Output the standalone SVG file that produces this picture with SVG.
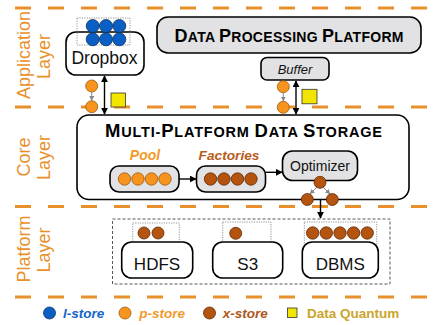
<svg xmlns="http://www.w3.org/2000/svg" width="433" height="325" viewBox="0 0 433 325">
<defs>
<style>
.layer{stroke:#E8912C;stroke-width:3;stroke-dasharray:16 17;fill:none}
.ltxt{font-family:"Liberation Sans",Arial,sans-serif;font-size:18px;fill:#E8912C;text-anchor:middle}
.node{fill:#fff;stroke:#000;stroke-width:1.6}
.gnode{fill:#E2E2E4;stroke:#000;stroke-width:1.6}
.txt{font-family:"Liberation Sans",Arial,sans-serif;fill:#111;text-anchor:middle}
.title{font-family:"Liberation Sans",Arial,sans-serif;font-weight:bold;fill:#000;text-anchor:middle}
.dot{fill:none;stroke:#888;stroke-width:0.9;stroke-dasharray:1.2 1.2}
.lb{fill:#0A5FC4;stroke:#10335E;stroke-width:0.8}
.po{fill:#F7941D;stroke:#9A5A12;stroke-width:0.8}
.xb{fill:#B5540F;stroke:#5E2A06;stroke-width:0.8}
.dq{fill:#F2E600;stroke:#333;stroke-width:0.8}
.arr{stroke:#000;stroke-width:1.4;fill:none}
.garr{stroke:#888;stroke-width:1;fill:none}
.leg{font-family:"Liberation Sans",Arial,sans-serif;font-size:13.5px;font-weight:bold}
</style>
<marker id="ah" viewBox="0 0 10 10" refX="9" refY="5" markerWidth="5" markerHeight="5" orient="auto-start-reverse"><path d="M0,0 L10,5 L0,10 z" fill="#000"/></marker>
<marker id="gh" viewBox="0 0 10 10" refX="9" refY="5" markerWidth="5" markerHeight="5" orient="auto"><path d="M0,0 L10,5 L0,10 z" fill="#888"/></marker>
</defs>
<rect width="433" height="325" fill="#fff"/>

<g id="layer-lines">
<line class="layer" x1="15" y1="8" x2="433" y2="8"/>
<line class="layer" x1="15" y1="107" x2="433" y2="107"/>
<line class="layer" x1="15" y1="206.5" x2="433" y2="206.5"/>
<line class="layer" x1="15" y1="297" x2="433" y2="297"/>
</g>

<g id="layer-labels">
<text class="ltxt" transform="translate(30,55) rotate(-90)">Application</text>
<text class="ltxt" transform="translate(50,56.5) rotate(-90)">Layer</text>
<text class="ltxt" transform="translate(29.5,157) rotate(-90)">Core</text>
<text class="ltxt" transform="translate(50,157.5) rotate(-90)">Layer</text>
<text class="ltxt" transform="translate(30,249) rotate(-90)">Platform</text>
<text class="ltxt" transform="translate(50,250) rotate(-90)">Layer</text>
</g>

<g id="dropbox">
<rect class="node" x="66" y="32" width="78" height="43" rx="10"/>
<rect class="dot" x="77" y="18" width="53" height="27"/>
<circle class="lb" cx="92.7" cy="26" r="6.5"/>
<circle class="lb" cx="106" cy="26" r="6.5"/>
<circle class="lb" cx="119.3" cy="26" r="6.5"/>
<circle class="lb" cx="92.7" cy="39.3" r="6.5"/>
<circle class="lb" cx="106" cy="39.3" r="6.5"/>
<circle class="lb" cx="119.3" cy="39.3" r="6.5"/>
<text class="txt" x="104.5" y="64" font-size="17.5">Dropbox</text>
</g>

<g id="data-processing-platform">
<rect class="gnode" x="157" y="17" width="264" height="36" rx="11"/>
<text class="title" x="289" y="42" textLength="229" lengthAdjust="spacing"><tspan font-size="18">D</tspan><tspan font-size="14">ATA </tspan><tspan font-size="18">P</tspan><tspan font-size="14">ROCESSING </tspan><tspan font-size="18">P</tspan><tspan font-size="14">LATFORM</tspan></text>
</g>

<g id="buffer">
<rect class="gnode" x="261" y="57.5" width="68" height="22.5" rx="6"/>
<text class="txt" x="295" y="73.5" font-size="13" font-style="italic">Buffer</text>
</g>

<g id="core">
<rect class="node" x="77" y="115" width="332" height="84.5" rx="12" stroke-width="2"/>
<text class="title" x="243.5" y="137" textLength="277" lengthAdjust="spacing"><tspan font-size="18.5">M</tspan><tspan font-size="14.5">ULTI-</tspan><tspan font-size="18.5">P</tspan><tspan font-size="14.5">LATFORM </tspan><tspan font-size="18.5">D</tspan><tspan font-size="14.5">ATA </tspan><tspan font-size="18.5">S</tspan><tspan font-size="14.5">TORAGE</tspan></text>
</g>

<g id="pool">
<text class="txt" x="145" y="160" font-size="14" font-weight="bold" font-style="italic" fill="#F39A26" style="fill:#F39A26">Pool</text>
<rect class="gnode" x="110" y="166" width="69" height="26" rx="9"/>
<circle class="po" cx="124.5" cy="179" r="6.2"/>
<circle class="po" cx="138" cy="179" r="6.2"/>
<circle class="po" cx="151.5" cy="179" r="6.2"/>
<circle class="po" cx="165" cy="179" r="6.2"/>
</g>

<g id="factories">
<text class="txt" x="229" y="160" font-size="13.7" font-weight="bold" font-style="italic" style="fill:#B85C1A">Factories</text>
<rect class="gnode" x="196.5" y="166" width="69" height="26" rx="9"/>
<circle class="xb" cx="210.5" cy="179" r="6.2"/>
<circle class="xb" cx="224" cy="179" r="6.2"/>
<circle class="xb" cx="237.5" cy="179" r="6.2"/>
<circle class="xb" cx="251" cy="179" r="6.2"/>
</g>

<g id="optimizer">
<rect class="gnode" x="282.5" y="151" width="75" height="29.5" rx="10"/>
<text class="txt" x="320" y="170.5" font-size="14">Optimizer</text>
</g>

<g id="platform-group">
<rect x="112.5" y="219" width="277.5" height="65" fill="none" stroke="#444" stroke-width="0.9" stroke-dasharray="3 2"/>
</g>

<g id="hdfs">
<rect class="dot" x="132.7" y="223" width="46.6" height="24"/>
<rect class="node" x="121.7" y="242" width="71" height="36" rx="10"/>
<circle class="xb" cx="144" cy="233" r="6"/>
<circle class="xb" cx="158" cy="233" r="6"/>
<text class="txt" x="157" y="270" font-size="17">HDFS</text>
</g>

<g id="s3">
<rect class="dot" x="222.7" y="222" width="48.3" height="27"/>
<rect class="node" x="212.7" y="242" width="70" height="36" rx="10"/>
<circle class="xb" cx="235.7" cy="233.3" r="6"/>
<text class="txt" x="247.7" y="270" font-size="17">S3</text>
</g>

<g id="dbms">
<rect class="dot" x="304.3" y="222" width="72.4" height="27"/>
<rect class="node" x="302.3" y="242" width="76" height="36" rx="10"/>
<circle class="xb" cx="312.7" cy="233" r="6.2"/>
<circle class="xb" cx="326.3" cy="233" r="6.2"/>
<circle class="xb" cx="340" cy="233" r="6.2"/>
<circle class="xb" cx="353.6" cy="233" r="6.2"/>
<circle class="xb" cx="367.2" cy="233" r="6.2"/>
<text class="txt" x="340.3" y="270" font-size="17">DBMS</text>
</g>

<g id="connectors">
<line class="arr" x1="104.5" y1="76" x2="104.5" y2="114" marker-start="url(#ah)" marker-end="url(#ah)"/>
<line class="arr" x1="296" y1="81" x2="296" y2="114" marker-start="url(#ah)" marker-end="url(#ah)"/>
<line class="garr" x1="91.7" y1="92" x2="91.7" y2="100.5" marker-end="url(#gh)"/>
<line class="garr" x1="283.3" y1="93" x2="283.3" y2="101" marker-end="url(#gh)"/>
<line class="arr" x1="179" y1="179" x2="196" y2="179" marker-end="url(#ah)"/>
<line class="arr" x1="265.5" y1="172.3" x2="282" y2="172.3" marker-end="url(#ah)"/>
<line class="garr" x1="317" y1="187" x2="310" y2="194" marker-end="url(#gh)"/>
<line class="garr" x1="323" y1="187" x2="330" y2="194" marker-end="url(#gh)"/>
<line class="arr" x1="320.5" y1="200" x2="320.5" y2="218" marker-end="url(#ah)"/>
</g>

<g id="data-flow">
<circle class="po" cx="91.7" cy="86" r="6"/>
<circle class="po" cx="91.7" cy="106.7" r="6"/>
<rect class="dq" x="111" y="93" width="14.5" height="14"/>
<circle class="po" cx="283.3" cy="86.7" r="6"/>
<circle class="po" cx="283.3" cy="107.3" r="6"/>
<rect class="dq" x="302" y="89.3" width="15" height="14.5"/>
<circle class="xb" cx="320" cy="182.3" r="6"/>
<circle class="xb" cx="307.3" cy="199.5" r="6"/>
<circle class="xb" cx="332.3" cy="199.5" r="6"/>
</g>

<g id="legend">
<circle class="lb" cx="49.5" cy="313" r="6"/>
<text class="leg" x="63" y="317.5" font-style="italic" fill="#1466C6">l-store</text>
<circle class="po" cx="125" cy="313" r="6"/>
<text class="leg" x="139.3" y="317.5" font-style="italic" fill="#F29A2E">p-store</text>
<circle class="xb" cx="209.5" cy="313" r="6"/>
<text class="leg" x="222.7" y="317.5" font-style="italic" fill="#B0561A">x-store</text>
<rect class="dq" x="287.5" y="308" width="9.5" height="9.5"/>
<text class="leg" x="307" y="317.5" fill="#C9A52C">Data Quantum</text>
</g>
</svg>
